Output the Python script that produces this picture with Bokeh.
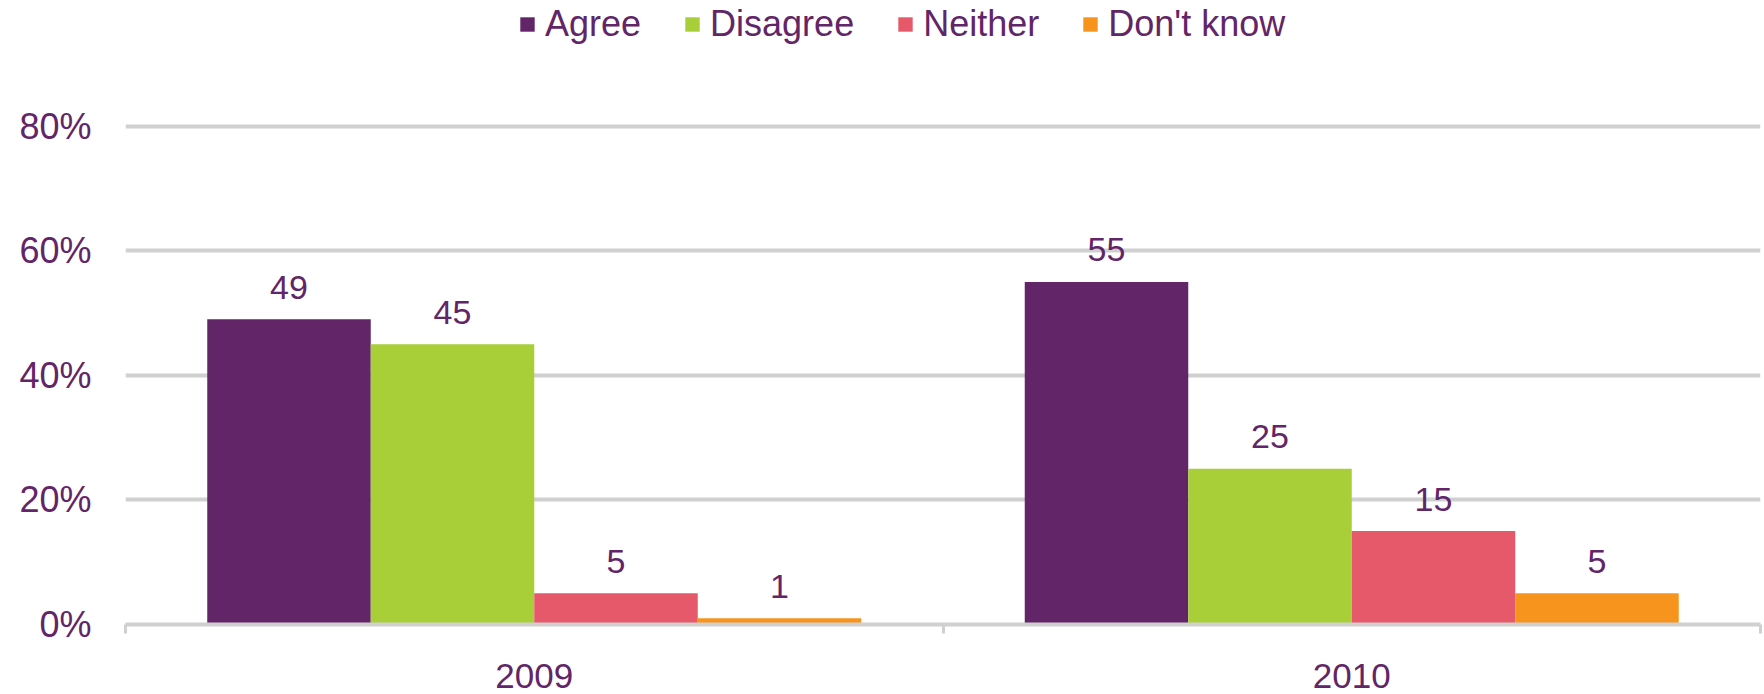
from bokeh.plotting import figure
from bokeh.models import (ColumnDataSource, FactorRange, Range1d, Legend, LegendItem,
                          LinearAxis, FixedTicker, PrintfTickFormatter)
from bokeh.transform import dodge
from bokeh.core.properties import value
from bokeh.embed import file_html
from bokeh.resources import INLINE

# ---- data ----
years = ["2009", "2010"]
series = ["Agree", "Disagree", "Neither", "Don't know"]
agree = [49, 55]
disagree = [45, 25]
neither = [5, 15]
dont_know = [1, 5]
y_ticks = [0, 20, 40, 60, 80]

colors = ["#622567", "#A8CF38", "#E6596B", "#F7941E"]
TXT = "#622567"
GRID = "#D0D0D0"
FONT = "Liberation Sans"

cols = ["agree", "disagree", "neither", "dont_know"]
data = dict(year=years, agree=agree, disagree=disagree, neither=neither, dont_know=dont_know)
for c in cols:
    data[c + "_lbl"] = [str(v) for v in data[c]]
src = ColumnDataSource(data)

# y range extends above the top tick to leave room for the legend inside the frame
p = figure(width=1764, height=694,
           x_range=FactorRange(*years, range_padding=0),
           y_range=Range1d(0, 100.2),
           output_backend="svg", toolbar_location=None,
           x_axis_location=None,
           min_border_left=125, min_border_right=4,
           min_border_top=0, min_border_bottom=70,
           outline_line_color=None, background_fill_color="white",
           border_fill_color="white")

# y axis
p.yaxis.ticker = FixedTicker(ticks=y_ticks)
p.yaxis.formatter = PrintfTickFormatter(format="%d%%")
p.yaxis.axis_line_color = None
p.yaxis.major_tick_line_color = None
p.yaxis.minor_tick_line_color = None
p.yaxis.major_label_standoff = 28
p.yaxis.major_label_text_font = FONT
p.yaxis.major_label_text_font_size = "36px"
p.yaxis.major_label_text_color = TXT

p.xgrid.visible = False
p.ygrid.ticker = FixedTicker(ticks=y_ticks)
p.ygrid.grid_line_color = GRID
p.ygrid.grid_line_width = 4

# x axis on the category range's synthetic coordinates:
# labels at category centres, tick marks at category boundaries
xax = LinearAxis(ticker=FixedTicker(ticks=[i + 0.5 for i in range(len(years))],
                                    minor_ticks=list(range(len(years) + 1))),
                 major_label_overrides={i + 0.5: y for i, y in enumerate(years)},
                 axis_line_color=GRID, axis_line_width=4,
                 major_tick_line_color=None, major_tick_out=0, major_tick_in=0,
                 minor_tick_line_color=GRID, minor_tick_line_width=3,
                 minor_tick_out=9, minor_tick_in=0,
                 major_label_standoff=30,
                 major_label_text_font=FONT, major_label_text_font_size="35px",
                 major_label_text_color=TXT)
p.add_layout(xax, "below")

offsets = [-0.3, -0.1, 0.1, 0.3]
items = []
for c, name, col, off in zip(cols, series, colors, offsets):
    r = p.vbar(x=dodge("year", off, range=p.x_range), top=c, width=0.2, bottom=0,
               source=src, fill_color=col, line_color=None)
    p.text(x=dodge("year", off, range=p.x_range), y=c, text=c + "_lbl", source=src,
           text_align="center", text_baseline="middle", y_offset=-32,
           text_font=value(FONT), text_font_size="34px", text_color=TXT)
    items.append(LegendItem(label=name, renderers=[r]))

legend = Legend(items=items, orientation="horizontal", location=(393, 579),
                glyph_width=18, glyph_height=18, label_standoff=9, spacing=42,
                padding=0, margin=0, border_line_color=None, background_fill_alpha=0,
                label_text_font=FONT, label_text_font_size="36px",
                label_text_color=TXT)
p.add_layout(legend, "center")

open("out.html", "w").write(file_html(p, INLINE))
